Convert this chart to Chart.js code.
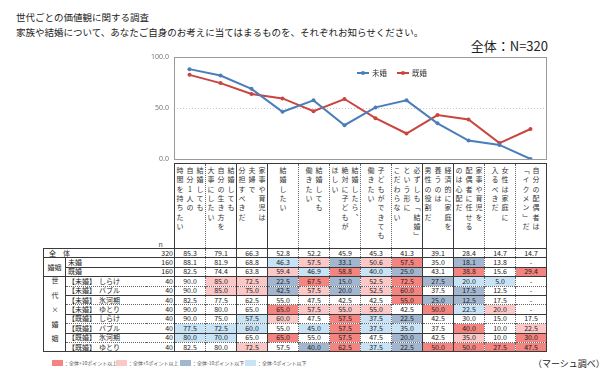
<!DOCTYPE html>
<html>
<head>
<meta charset="utf-8">
<script src="https://cdn.jsdelivr.net/npm/chart.js@4.4.1/dist/chart.umd.min.js"></script>
<style>
  body { margin: 0; width: 600px; height: 376px; overflow: hidden; background: #fff; position: relative;
         font-family: "Noto Sans CJK JP", "Noto Sans", sans-serif; color: #222; }
  .ttl { position: absolute; left: 16px; font-size: 9.5px; line-height: 12px; white-space: nowrap; }
  #nTotal { position: absolute; right: 52px; top: 38px; font-size: 13px; line-height: 16px; }
  #chart { position: absolute; left: 0; top: 0; pointer-events: none; }
  #t { position: absolute; left: 43px; top: 163px; border-collapse: collapse; table-layout: fixed; width: 503px;
       font-size: 7px; line-height: 7px; }
  #t td { padding: 0; height: 8.4px; overflow: hidden; white-space: nowrap; text-align: center; }
  #t tr.hd td { height: 84px; vertical-align: top; }
  .vt { display: inline-block; writing-mode: vertical-rl; text-orientation: upright; font-size: 7px;
        line-height: 10px; letter-spacing: 2.3px; margin-top: 3px; text-align: left; color: #333; }
  .lab { text-align: left !important; padding-left: 2px !important; }
  .br { display: inline-block; width: 31px; }
  .grpv { writing-mode: vertical-rl; text-orientation: upright; letter-spacing: 7.5px; display: inline-block; }
  #key { position: absolute; left: 52px; top: 358px; font-size: 5px; color: #555; }
  #key span.b { position: absolute; top: 2px; width: 11px; height: 6px; }
  #key span.x { position: absolute; top: 2px; line-height: 6px; white-space: nowrap; }
  #src { position: absolute; left: 533px; top: 358px; font-size: 9px; line-height: 12px; white-space: nowrap; }
</style>
</head>
<body>
<div class="ttl" style="top:11px">世代ごとの価値観に関する調査</div>
<div class="ttl" style="top:26px">家族や結婚について、あなたご自身のお考えに当てはまるものを、それぞれお知らせください。</div>
<div id="nTotal">全体：N=320</div>
<table id="t"></table>
<div id="key"></div>
<div id="src">（マーシュ調べ）</div>
<canvas id="chart" width="600" height="376"></canvas>
<script>
const categories = [
  ["結婚しても", "自分1人の", "時間を持ちたい"],
  ["結婚しても", "自分の生き方を", "大事にしたい"],
  ["家事や育児は", "夫婦で", "分担すべきだ"],
  ["結婚したい"],
  ["結婚しても", "働きたい"],
  ["結婚したら、", "絶対に子どもが", "ほしい"],
  ["子どもができても", "働きたい"],
  ["必ずしも「結婚」", "という形に", "こだわらない"],
  ["経済的に家庭を", "養うのは", "男性の役割だ"],
  ["家事や育児を", "配偶者に任せる", "のは心配だ"],
  ["女性は家庭に", "入るべきだ"],
  ["自分の配偶者は", "「イクメン」だ"]
];
const seriesNames = ["未婚", "既婚"];
const yTicks = [0, 50, 100];

// table rows (null = "-")
const total      = [85.3, 79.1, 66.3, 52.8, 52.2, 45.9, 45.3, 41.3, 39.1, 28.4, 14.7, 14.7];
const unmarried  = [88.1, 81.9, 68.8, 46.3, 57.5, 33.1, 50.6, 57.5, 35.0, 18.1, 13.8, null];
const married    = [82.5, 74.4, 63.8, 59.4, 46.9, 58.8, 40.0, 25.0, 43.1, 38.8, 15.6, 29.4];
const uShirake   = [90.0, 85.0, 72.5, 22.5, 67.5, 15.0, 52.5, 72.5, 27.5, 20.0, 5.0, null];
const uBubble    = [90.0, 85.0, 75.0, 42.5, 57.5, 20.0, 52.5, 60.0, 37.5, 17.5, 12.5, null];
const uHyogaki   = [82.5, 77.5, 62.5, 55.0, 47.5, 42.5, 42.5, 55.0, 25.0, 12.5, 17.5, null];
const uYutori    = [90.0, 80.0, 65.0, 65.0, 57.5, 55.0, 55.0, 42.5, 50.0, 22.5, 20.0, null];
const mShirake   = [90.0, 75.0, 57.5, 60.0, 47.5, 57.5, 37.5, 22.5, 42.5, 30.0, 15.0, 17.5];
const mBubble    = [77.5, 72.5, 60.0, 55.0, 45.0, 57.5, 37.5, 35.0, 37.5, 40.0, 10.0, 22.5];
const mHyogaki   = [80.0, 70.0, 65.0, 65.0, 55.0, 57.5, 47.5, 20.0, 42.5, 35.0, 10.0, 30.0];
const mYutori    = [82.5, 80.0, 72.5, 57.5, 40.0, 62.5, 37.5, 22.5, 50.0, 50.0, 27.5, 47.5];

const rowValues = [total, unmarried, married, uShirake, uBubble, uHyogaki, uYutori, mShirake, mBubble, mHyogaki, mYutori];
const rowN = [320, 160, 160, 40, 40, 40, 40, 40, 40, 40, 40];
const rowTags = ["", "", "", "【未婚】", "【未婚】", "【未婚】", "【未婚】", "【既婚】", "【既婚】", "【既婚】", "【既婚】"];
const rowNames = ["全　体", "未婚", "既婚", "しらけ", "バブル", "氷河期", "ゆとり", "しらけ", "バブル", "氷河期", "ゆとり"];

const keyLabels = ["：全体+10ポイント以上", "：全体+5ポイント以上", "：全体-10ポイント以下", "：全体-5ポイント以下"];
const keyColors = ["#f4847f", "#fbc8c7", "#a3b6d0", "#c8e3f6"];

const blue = "#4a7ebb", red = "#c9453f";
const solidLeft = [0, 2, 3, 8, 9];
const dottedTop = [4, 6, 8, 10];
const LINE = "#3a3a3a";

function cellColor(v, base) {
  if (v === null) return "";
  const d = v - base;
  if (d >= 10) return keyColors[0];
  if (d >= 5) return keyColors[1];
  if (d <= -10) return keyColors[2];
  if (d <= -5) return keyColors[3];
  return "";
}
function colBorder(i) {
  const l = solidLeft.includes(i) ? `1px solid ${LINE}` : "1px dotted #666";
  const r = i === categories.length - 1 ? `;border-right:1px solid ${LINE}` : "";
  return `border-left:${l}${r}`;
}

// table
let html = '<colgroup><col style="width:22px"><col style="width:80px"><col style="width:29px">' +
  categories.map(() => '<col style="width:31px">').join("") + "</colgroup>";
html += '<tr class="hd"><td colspan="2"></td><td style="vertical-align:bottom;text-align:left;padding-left:13px;color:#444">n</td>' +
  categories.map((c, i) => `<td style="${colBorder(i)};border-top:1px solid ${LINE}"><div class="vt">${c.join("<br>")}</div></td>`).join("") + "</tr>";
rowValues.forEach((vals, r) => {
  const top = `border-top:1px ${dottedTop.includes(r) ? "dotted #666" : "solid " + LINE}`;
  let tr = "<tr>";
  if (r === 0) tr += `<td colspan="2" class="lab" style="${top};border-left:1px solid ${LINE};padding-left:5px!important">${rowNames[r]}</td>`;
  else {
    if (r === 1) tr += `<td rowspan="2" style="border:1px solid ${LINE}">婚姻</td>`;
    if (r === 3) tr += `<td rowspan="8" style="border:1px solid ${LINE}"><span class="grpv">世代×婚姻</span></td>`;
    const tag = rowTags[r] ? `<span class="br">${rowTags[r]}</span>` : "";
    tr += `<td class="lab" style="${top}">${tag}${rowNames[r]}</td>`;
  }
  tr += `<td style="${top};text-align:right;padding-right:1px">${rowN[r]}</td>`;
  vals.forEach((v, i) => {
    const bg = r === 0 ? "" : cellColor(v, total[i]);
    tr += `<td style="${top};${colBorder(i)};${bg ? "background:" + bg : ""}">${v === null ? "-" : v.toFixed(1)}</td>`;
  });
  html += tr + "</tr>";
});
document.getElementById("t").innerHTML = html;
document.querySelector("#t tr:last-child").querySelectorAll("td").forEach(td => td.style.borderBottom = "1px solid " + LINE);

// colour key
const keyX = [0, 64, 128, 193];
document.getElementById("key").innerHTML = keyLabels.map((t, i) =>
  `<span class="b" style="left:${keyX[i]}px;background:${keyColors[i]}"></span><span class="x" style="left:${keyX[i] + 12}px">${t}</span>`).join("");

// line chart
const legendInArea = {
  id: "legendInArea",
  afterDraw(chart) {
    const { ctx, chartArea: a } = chart;
    ctx.save();
    ctx.strokeStyle = "#9a9a9a";
    ctx.lineWidth = 1;
    ctx.strokeRect(Math.round(a.left) + 0.5, Math.round(a.top) + 0.5, Math.round(a.right - a.left), Math.round(a.bottom - a.top));
    let x = a.left + (a.right - a.left) * 0.5;
    const y = a.top + 16;
    ctx.font = "7.5px 'Noto Sans CJK JP'";
    ctx.textBaseline = "middle";
    chart.data.datasets.forEach(ds => {
      ctx.strokeStyle = ds.borderColor; ctx.fillStyle = ds.borderColor; ctx.lineWidth = 2;
      ctx.beginPath(); ctx.moveTo(x - 3, y); ctx.lineTo(x + 9, y); ctx.stroke();
      ctx.beginPath(); ctx.arc(x + 3, y, 2, 0, Math.PI * 2); ctx.fill();
      ctx.fillStyle = "#333";
      ctx.fillText(ds.label, x + 12, y);
      x += 40;
    });
    ctx.restore();
  }
};

new Chart(document.getElementById("chart"), {
  type: "line",
  data: {
    labels: categories,
    datasets: [
      { label: seriesNames[0], data: unmarried.map(v => v ?? 0), borderColor: blue, backgroundColor: blue,
        borderWidth: 2, pointRadius: 2, pointBorderWidth: 0, tension: 0 },
      { label: seriesNames[1], data: married.map(v => v ?? 0), borderColor: red, backgroundColor: red,
        borderWidth: 2, pointRadius: 2, pointBorderWidth: 0, tension: 0 }
    ]
  },
  options: {
    responsive: false,
    animation: false,
    layout: { padding: { left: 134, right: 54, top: 57, bottom: 217 } },
    plugins: { legend: { display: false }, tooltip: { enabled: false } },
    scales: {
      x: { display: false, offset: true },
      y: {
        min: 0, max: 100,
        afterFit(s) { s.width = 40; },
        afterBuildTicks(s) { s.ticks = yTicks.map(v => ({ value: v })); },
        ticks: { callback: v => v.toFixed(1), font: { size: 7, family: "'Noto Sans'" }, color: "#777", padding: 5 },
        grid: { color: c => (c.tick && c.tick.value === 50 ? "#c8c8c8" : "rgba(0,0,0,0)"), drawTicks: false },
        border: { display: false, dash: [1, 2] }
      }
    }
  },
  plugins: [legendInArea]
});
</script>
</body>
</html>
